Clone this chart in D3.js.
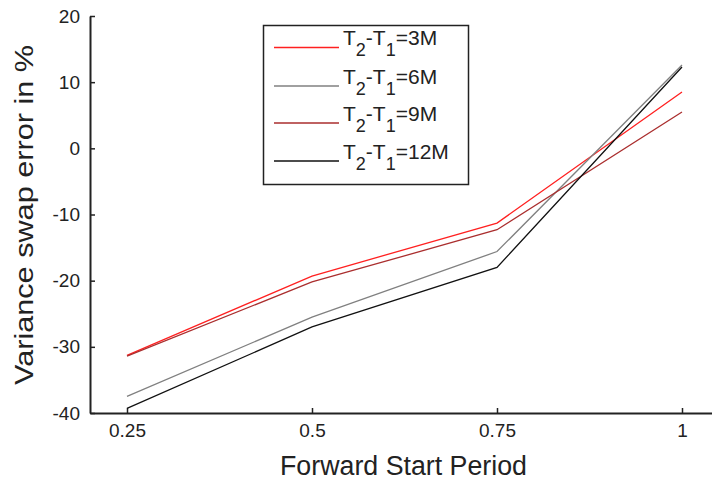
<!DOCTYPE html>
<html>
<head>
<meta charset="utf-8">
<script src="https://cdn.jsdelivr.net/npm/d3@7"></script>
<style>
  html, body { margin: 0; padding: 0; background: #fff; }
  svg { display: block; font-family: "Liberation Sans", Arial, sans-serif; }
</style>
</head>
<body>
<svg id="chart" width="712" height="483"></svg>
<script>
// Forward start periods (years) on the horizontal axis
const periods = [0.25, 0.5, 0.75, 1];
const xTickLabels = ["0.25", "0.5", "0.75", "1"];
const yTicks = [-40, -30, -20, -10, 0, 10, 20];

// Variance swap error (%) for each tenor T2-T1
const err3M  = [-31.3, -19.3, -11.3, 8.5];
const err6M  = [-37.5, -25.5, -15.6, 12.6];
const err9M  = [-31.4, -20.2, -12.3, 5.5];
const err12M = [-39.3, -27.0, -18.0, 12.3];

const seriesNames = ["3M", "6M", "9M", "12M"];
const seriesColors = ["#ff2020", "#808080", "#aa2e2e", "#111111"];
const seriesValues = [err3M, err6M, err9M, err12M];

const svg = d3.select("#chart");
const plotLeft = 90, plotRight = 719, plotTop = 16, plotBottom = 413;

const x = d3.scaleLinear().domain([0.2, 1.05]).range([plotLeft, plotRight]);
const y = d3.scaleLinear().domain([-40, 20]).range([plotBottom, plotTop]);

// Axes: ticks pointing inward, plain hyphen minus signs
const xAxis = d3.axisBottom(x).tickValues(periods)
  .tickFormat((d, i) => xTickLabels[i]).tickSizeInner(-5).tickSizeOuter(0).tickPadding(11);
const yAxis = d3.axisLeft(y).tickValues(yTicks)
  .tickFormat(d => String(d)).tickSizeInner(-5).tickSizeOuter(0).tickPadding(10);

const gx = svg.append("g").attr("transform", `translate(0,${plotBottom})`).call(xAxis);
const gy = svg.append("g").attr("transform", `translate(${plotLeft},0)`).call(yAxis);
[gx, gy].forEach(g => {
  g.attr("font-family", null).attr("font-size", null);
  g.select(".domain").attr("stroke", "#222").attr("stroke-width", 2);
  g.selectAll(".tick line").attr("stroke", "#222").attr("stroke-width", 1.5);
  g.selectAll(".tick text").attr("fill", "#222").style("font-size", "19px");
});

// Series lines
const line = d3.line().x((d, i) => x(periods[i])).y(d => y(d));
seriesValues.forEach((vals, k) => {
  svg.append("path").datum(vals)
    .attr("d", line)
    .attr("fill", "none")
    .attr("stroke", seriesColors[k])
    .attr("stroke-width", 1.3);
});

// Axis titles (wide glyphs)
svg.append("text")
  .attr("x", 280).attr("y", 475)
  .attr("textLength", 247).attr("lengthAdjust", "spacingAndGlyphs")
  .style("font-size", "27px").attr("fill", "#222")
  .text("Forward Start Period");
svg.append("text")
  .attr("transform", `translate(33,385) rotate(-90)`)
  .attr("textLength", 340).attr("lengthAdjust", "spacingAndGlyphs")
  .style("font-size", "25px").attr("fill", "#222")
  .text("Variance swap error in %");

// Legend
const lg = svg.append("g");
lg.append("rect").attr("x", 263.5).attr("y", 25.5).attr("width", 205).attr("height", 159)
  .attr("fill", "#fff").attr("stroke", "#222").attr("stroke-width", 1.5);
const rowY = [47.5, 86, 123, 161];
seriesNames.forEach((name, k) => {
  lg.append("line").attr("x1", 274).attr("x2", 339)
    .attr("y1", rowY[k]).attr("y2", rowY[k])
    .attr("stroke", seriesColors[k]).attr("stroke-width", 1.5);
  const t = lg.append("text").attr("x", 343).attr("y", rowY[k] - 2.5)
    .style("font-size", "21px").attr("fill", "#222");
  t.append("tspan").text("T");
  t.append("tspan").attr("dy", 11).style("font-size", "18px").text("2");
  t.append("tspan").attr("dy", -11).text("-T");
  t.append("tspan").attr("dy", 11).style("font-size", "18px").text("1");
  t.append("tspan").attr("dy", -11).text("=" + name);
});
</script>
</body>
</html>
